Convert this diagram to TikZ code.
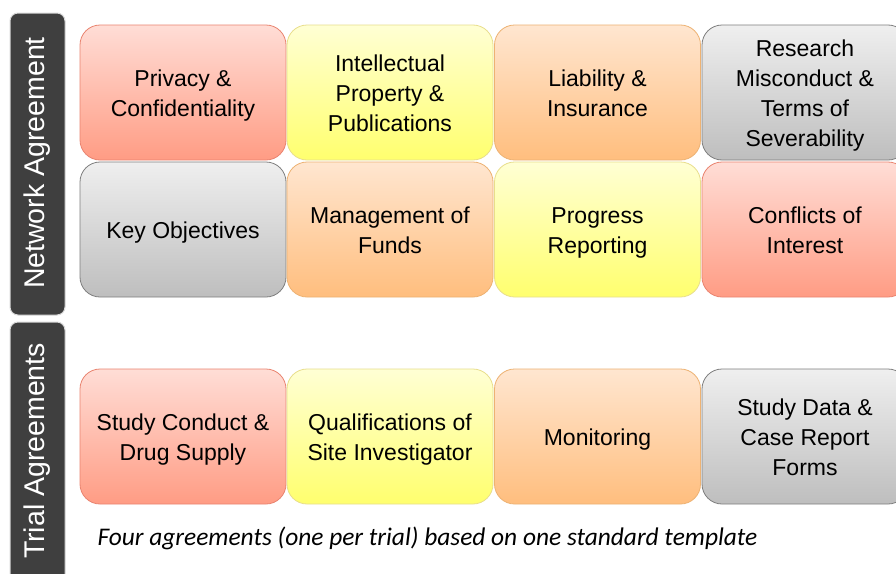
\documentclass[tikz,border=0pt]{standalone}
\usepackage{fontspec}
\setmainfont{Liberation Sans}
\newfontfamily\notefont{Carlito}
\usepackage{xcolor}
\usepackage{tikz}

\definecolor{redtop}{HTML}{FFDDD6}
\definecolor{redbot}{HTML}{FF9C84}
\definecolor{redline}{HTML}{E98470}
\definecolor{yeltop}{HTML}{FFFFD4}
\definecolor{yelbot}{HTML}{FFFF6E}
\definecolor{yelline}{HTML}{E8DE8C}
\definecolor{orgtop}{HTML}{FFE6D0}
\definecolor{orgbot}{HTML}{FFBE7E}
\definecolor{orgline}{HTML}{EDB273}
\definecolor{grytop}{HTML}{EFEFEF}
\definecolor{grybot}{HTML}{BEBEBE}
\definecolor{gryline}{HTML}{7F7F7F}
\definecolor{barfill}{HTML}{3F3F3F}

\begin{document}
\begin{tikzpicture}[x=1pt,y=-1pt,
  item/.style={rounded corners=20pt, minimum width=206pt, minimum height=135pt,
    align=center, font=\fontsize{23}{30}\selectfont, line width=0.8pt,
    execute at begin node=\rule{0pt}{24pt}, execute at end node=\rule[-7pt]{0pt}{0pt}},
  twoline/.style={execute at begin node=\rule{0pt}{54pt}},
  threeline/.style={execute at begin node=\rule{0pt}{84pt}},
  fourline/.style={execute at begin node=\rule{0pt}{114pt}},
  redbox/.style={item, draw=redline, top color=redtop, bottom color=redbot},
  yelbox/.style={item, draw=yelline, top color=yeltop, bottom color=yelbot},
  orgbox/.style={item, draw=orgline, top color=orgtop, bottom color=orgbot},
  grybox/.style={item, draw=gryline, top color=grytop, bottom color=grybot},
  sidebar/.style={fill=barfill, draw=white!85!black, line width=1pt, rounded corners=8pt},
  barlabel/.style={rotate=90, text=white, font=\fontsize{28.5}{30}\selectfont}]
\useasboundingbox (0,0) rectangle (896,573);
\fill[white] (0,0) rectangle (896,573);

% side bars
\draw[sidebar] (10,13) rectangle (65,315);
\draw[sidebar] (10,322) rectangle (65,600);
\node[barlabel] (netlabel) at (37.5,163) {Network Agreement};
\node[barlabel] (triallabel) at (37.5,451) {Trial Agreements};

% network agreement
\node[redbox, twoline] (privacy) at (183,92.5) {Privacy \&\\Confidentiality};
\node[yelbox, threeline] (property) at (390,92.5) {Intellectual\\Property \&\\Publications};
\node[orgbox, twoline] (liability) at (597.5,92.5) {Liability \&\\Insurance};
\node[grybox, fourline] (misconduct) at (805,92.5) {Research\\Misconduct \&\\Terms of\\Severability};

\node[grybox] (objectives) at (183,229.5) {Key Objectives};
\node[orgbox, twoline] (funds) at (390,229.5) {Management of\\Funds};
\node[yelbox, twoline] (progress) at (597.5,229.5) {Progress\\Reporting};
\node[redbox, twoline] (conflicts) at (805,229.5) {Conflicts of\\Interest};

% trial agreements
\node[redbox, twoline] (conduct) at (183,436.5) {Study Conduct \&\\Drug Supply};
\node[yelbox, twoline] (investigator) at (390,436.5) {Qualifications of\\Site Investigator};
\node[orgbox] (monitoring) at (597.5,436.5) {Monitoring};
\node[grybox, threeline] (studydata) at (805,436.5) {Study Data \&\\Case Report\\Forms};

\node[anchor=west, font=\notefont\itshape\fontsize{25.4}{28}\selectfont] (note) at (94,538)
  {Four agreements (one per trial) based on one standard template};
\end{tikzpicture}
\end{document}
